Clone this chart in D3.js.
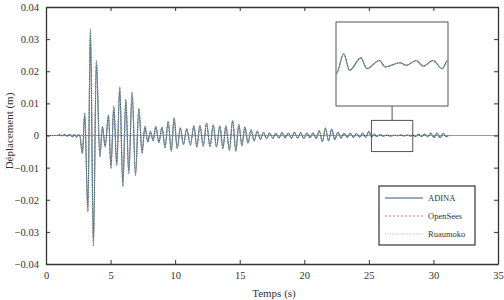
<!DOCTYPE html>
<html>
<head>
<meta charset="utf-8">
<script src="https://cdn.jsdelivr.net/npm/d3@7"></script>
<style>
  body { margin: 0; background: #fff; }
  svg text { font-family: "Liberation Serif", "Times New Roman", Times, serif; fill: #333; }
</style>
</head>
<body>
<div id="chart"></div>
<script>
// extrema of the displacement record (s, m)
var times = [0, 0.9, 1.05, 1.25, 1.45, 1.65, 1.85, 2.05, 2.2, 2.35, 2.5, 2.62,
  2.82, 3.0, 3.24, 3.44, 3.67, 3.9, 4.17, 4.37, 4.58, 4.84, 5.03, 5.25, 5.48,
  5.71, 5.95, 6.18, 6.41, 6.67, 6.93, 7.19, 7.44, 7.66, 7.88, 8.08, 8.3, 8.5,
  8.74, 8.98, 9.22, 9.46, 9.7, 9.92, 10.16, 10.4, 10.64, 10.9, 11.18, 11.45,
  11.68, 11.92, 12.18, 12.43, 12.7, 12.95, 13.2, 13.46, 13.7, 13.93, 14.2,
  14.45, 14.7, 14.93, 15.17, 15.4, 15.64, 15.88, 16.12, 16.36, 16.6, 16.84,
  17.08, 17.32, 17.56, 17.8, 18.04, 18.28, 18.52, 18.76, 19.0, 19.24, 19.48,
  19.72, 19.96, 20.2, 20.44, 20.68, 20.92, 21.16, 21.4, 21.64, 21.88, 22.12,
  22.36, 22.6, 22.84, 23.08, 23.32, 23.56, 23.8, 24.04, 24.28, 24.52, 24.76,
  25.0, 25.21, 25.42, 25.59, 25.91, 26.08, 26.44, 26.61, 27.03, 27.2, 27.5,
  27.69, 27.97, 28.24, 28.38, 28.6, 28.84, 29.08, 29.32, 29.56, 29.8, 30.04,
  30.28, 30.52, 30.76, 31.0, 31.15];
var displ = [0, 0, 0.0002, -0.0001, 0.0003, -0.0002, 0.0004, -0.0004, 0.0003, -0.0005, 0.0003, -0.0001,
  -0.0057, 0.0070, -0.0237, 0.0332, -0.0344, 0.0233, -0.0066, 0.0028, -0.0035, 0.0064, -0.0102, 0.0090, -0.0093,
  0.0151, -0.0159, 0.0112, -0.0118, 0.0135, -0.0124, 0.0084, -0.0055, 0.0029, -0.0020, 0.0012, -0.0016, 0.0029,
  -0.0022, 0.0026, -0.0038, 0.0044, -0.0049, 0.0055, -0.0040, 0.0024, -0.0028, 0.0021, -0.0030, 0.0030,
  -0.0036, 0.0032, -0.0033, 0.0039, -0.0035, 0.0033, -0.0036, 0.0030, -0.0040, 0.0030, -0.0046,
  0.0047, -0.0049, 0.0035, -0.0032, 0.0026, -0.0024, 0.0018, -0.0017, 0.0014, -0.0012, 0.0010,
  -0.0010, 0.0008, -0.0009, 0.0007, -0.0008, 0.0009, -0.0007, 0.0008, -0.0009, 0.0010, -0.0008,
  0.0009, -0.0010, 0.0008, -0.0007, 0.0008, -0.0009, 0.0015, -0.0019, 0.0023, -0.0017, 0.0020,
  -0.0012, 0.0010, -0.0008, 0.0007, -0.0006, 0.0007, -0.0006, 0.0006, -0.0005, 0.0007, -0.0006,
  0.0012, -0.00046, 0.00049, -0.0003, 0.00029, -0.00022, 0.00017, -0.00014, 0.00006, -0.00006, 0.00017,
  -0.00011, 0.00017, -0.00022, 0.00014, -0.0003, 0.0004, -0.0003, 0.0004, -0.0004, 0.0008, -0.0007,
  0.0008, -0.0007, 0.0007, -0.0004, 0];

var seriesNames = ["ADINA", "OpenSees", "Ruaumoko"];
var drawOrder = ["OpenSees", "ADINA", "Ruaumoko"];
var xTicks = [0, 5, 10, 15, 20, 25, 30, 35];
var yTicks = [-0.04, -0.03, -0.02, -0.01, 0, 0.01, 0.02, 0.03, 0.04];
var zoomT = [25.2, 28.4];        // time window shown in the inset
var zoomV = [-0.005, 0.0047];    // value window of the small box
var insetV = [-0.002, 0.002];    // value range of the inset

var margin = {top: 7, right: 6, bottom: 36, left: 46};
var fullWidth = 504, fullHeight = 300;
var width = fullWidth - margin.left - margin.right;
var height = fullHeight - margin.top - margin.bottom;
var serif = "Liberation Serif, Times New Roman, serif";

var styles = {
  ADINA:    {color: "#3a557f", dash: null,      w: 1.1},
  OpenSees: {color: "#e06a6a", dash: "2,2",     w: 0.9},
  Ruaumoko: {color: "#9ccaa6", dash: "1.2,1.2", w: 0.9}
};

var data = times.map(function(t, i) { return {t: t, v: displ[i]}; });

var svg = d3.select("#chart").append("svg")
    .attr("width", fullWidth)
    .attr("height", fullHeight);

var g = svg.append("g")
    .attr("transform", "translate(" + margin.left + "," + margin.top + ")");

var x = d3.scaleLinear().domain([0, 35]).range([0, width]);
var y = d3.scaleLinear().domain([-0.04, 0.04]).range([height, 0]);

// zero line
g.append("line")
    .attr("x1", 0).attr("x2", width)
    .attr("y1", y(0)).attr("y2", y(0))
    .attr("stroke", "#999").attr("stroke-width", 1);

var line = d3.line()
    .x(function(d) { return x(d.t); })
    .y(function(d) { return y(d.v); })
    .curve(d3.curveMonotoneX);

drawOrder.forEach(function(name) {
  var s = styles[name];
  g.append("path")
      .datum(data)
      .attr("d", line)
      .attr("fill", "none")
      .attr("stroke", s.color)
      .attr("stroke-width", s.w)
      .attr("stroke-dasharray", s.dash);
});

// axes, ticks inward on all four sides
var fmt = function(d) { return d === 0 ? "0" : d3.format(".2f")(d); };
function styleAxis(sel) {
  sel.attr("font-family", serif);
  sel.select(".domain").attr("stroke", "#333").attr("stroke-width", 1.3);
  sel.selectAll(".tick line").attr("stroke", "#333");
  sel.selectAll("text").attr("font-size", 10.5).attr("fill", "#333");
}
g.append("g").attr("transform", "translate(0," + height + ")")
    .call(d3.axisBottom(x).tickValues(xTicks).tickSizeInner(-4).tickSizeOuter(0).tickPadding(8))
    .call(styleAxis);
g.append("g")
    .call(d3.axisTop(x).tickValues(xTicks).tickSizeInner(-4).tickSizeOuter(0).tickFormat(""))
    .call(styleAxis);
g.append("g")
    .call(d3.axisLeft(y).tickValues(yTicks).tickSizeInner(-4).tickSizeOuter(0).tickPadding(7).tickFormat(fmt))
    .call(styleAxis);
g.append("g").attr("transform", "translate(" + width + ",0)")
    .call(d3.axisRight(y).tickValues(yTicks).tickSizeInner(-4).tickSizeOuter(0).tickFormat(""))
    .call(styleAxis);

svg.append("text")
    .attr("x", margin.left + width / 2 + 2).attr("y", 297)
    .attr("text-anchor", "middle").attr("font-size", 11)
    .text("Temps (s)");
svg.append("text")
    .attr("transform", "translate(13," + 131 + ") rotate(-90)")
    .attr("text-anchor", "middle").attr("font-size", 11)
    .text("Déplacement (m)");

// zoom box and inset
var bx0 = x(zoomT[0]), bx1 = x(zoomT[1]);
g.append("rect")
    .attr("x", bx0).attr("y", y(zoomV[1]))
    .attr("width", bx1 - bx0).attr("height", y(zoomV[0]) - y(zoomV[1]))
    .attr("fill", "none").attr("stroke", "#555").attr("stroke-width", 1);

var inset = {x: 290, y: 15, w: 112, h: 84};
g.append("line")
    .attr("x1", (bx0 + bx1) / 2).attr("x2", (bx0 + bx1) / 2)
    .attr("y1", inset.y + inset.h).attr("y2", y(zoomV[1]))
    .attr("stroke", "#555").attr("stroke-width", 1);

var ix = d3.scaleLinear().domain(zoomT).range([inset.x, inset.x + inset.w]);
var iy = d3.scaleLinear().domain(insetV).range([inset.y + inset.h, inset.y]);

svg.append("defs").append("clipPath").attr("id", "insetClip")
  .append("rect")
    .attr("x", inset.x).attr("y", inset.y)
    .attr("width", inset.w).attr("height", inset.h);

g.append("rect")
    .attr("x", inset.x).attr("y", inset.y)
    .attr("width", inset.w).attr("height", inset.h)
    .attr("fill", "#fff").attr("stroke", "#555").attr("stroke-width", 1);

var iline = d3.line()
    .x(function(d) { return ix(d.t); })
    .y(function(d) { return iy(d.v); })
    .curve(d3.curveMonotoneX);

drawOrder.forEach(function(name) {
  var s = styles[name];
  g.append("path")
      .datum(data)
      .attr("clip-path", "url(#insetClip)")
      .attr("d", iline)
      .attr("fill", "none")
      .attr("stroke", s.color)
      .attr("stroke-width", s.w)
      .attr("stroke-dasharray", s.dash);
});

// legend
var legend = g.append("g").attr("transform", "translate(333,179)");
legend.append("rect")
    .attr("width", 96).attr("height", 59)
    .attr("fill", "#fff").attr("stroke", "#333").attr("stroke-width", 1.2);
var item = legend.selectAll(".legend")
    .data(seriesNames)
    .enter().append("g")
    .attr("class", "legend")
    .attr("transform", function(d, i) { return "translate(0," + (12 + i * 18) + ")"; });
item.append("line")
    .attr("x1", 6).attr("x2", 44)
    .attr("stroke", function(d) { return styles[d].color; })
    .attr("stroke-width", function(d) { return styles[d].w; })
    .attr("stroke-dasharray", function(d) { return styles[d].dash; });
item.append("text")
    .attr("x", 49).attr("dy", "0.33em")
    .attr("font-size", 8.5)
    .text(function(d) { return d; });
</script>
</body>
</html>
